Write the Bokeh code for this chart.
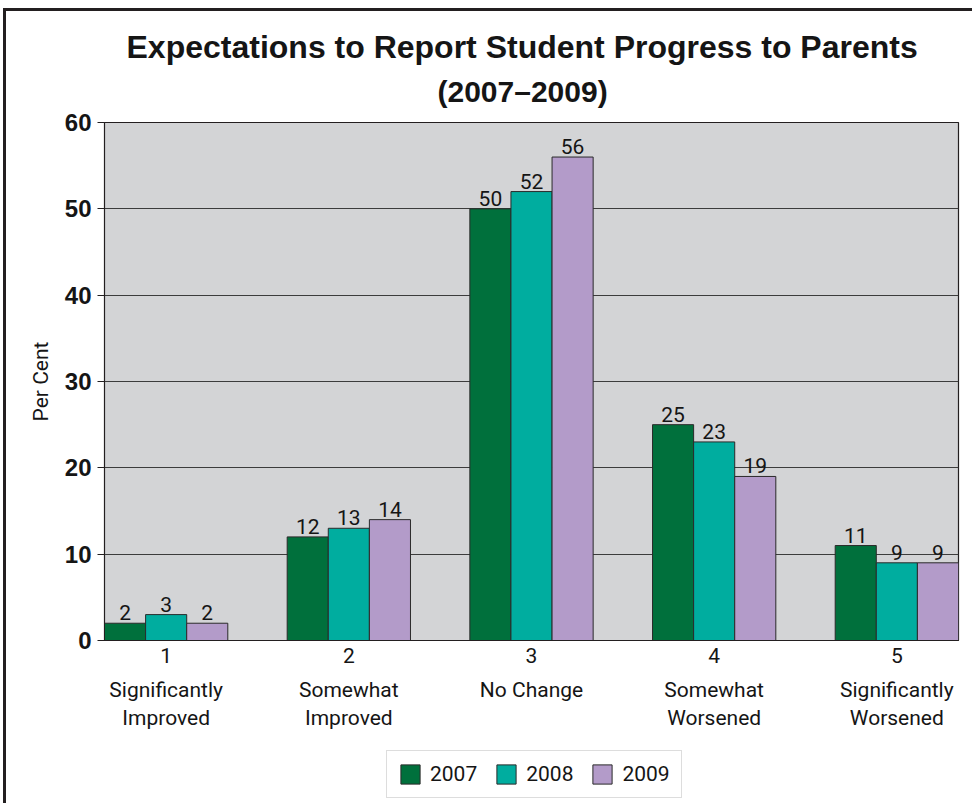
from bokeh.plotting import figure
from bokeh.models import (ColumnDataSource, Legend, LegendItem, Title, FixedTicker, Range1d,
                          LinearAxis)
from bokeh.layouts import column
from bokeh.core.properties import value
from bokeh.embed import file_html
from bokeh.resources import INLINE

# ---- data ----
categories = [1, 2, 3, 4, 5]
category_names = ["Significantly\nImproved", "Somewhat\nImproved", "No Change",
                  "Somewhat\nWorsened", "Significantly\nWorsened"]
years = ["2007", "2008", "2009"]
v2007 = [2, 12, 50, 25, 11]
v2008 = [3, 13, 52, 23, 9]
v2009 = [2, 14, 56, 19, 9]
y_ticks = [0, 10, 20, 30, 40, 50, 60]

colors = ["#00703c", "#00ad9f", "#b39bc9"]
series = [v2007, v2008, v2009]
offsets = [-0.225, 0.0, 0.225]
bar_w = 0.225

NARROW = "Roboto"
INK = "#151515"

p = figure(width=966, height=734, output_backend="svg", toolbar_location=None,
           x_range=Range1d(1 - 0.3375, 5 + 0.3375), y_range=Range1d(0, 60),
           min_border_left=98, min_border_right=14, min_border_top=111, min_border_bottom=105)

p.background_fill_color = "#d3d4d6"
p.border_fill_color = "white"
p.outline_line_color = "#231f20"
p.outline_line_width = 1.2

renderers = []
for vals, col, off, yr in zip(series, colors, offsets, years):
    src = ColumnDataSource(dict(x=[c + off for c in categories], top=vals,
                                lab=[str(v) for v in vals]))
    r = p.vbar(x="x", top="top", bottom=0, width=bar_w, source=src,
               fill_color=col, line_color="#2a2a2a", line_width=1)
    renderers.append((yr, col))
    p.text(x="x", y="top", text="lab", source=src, text_align="center",
           text_baseline="bottom", y_offset=-3, text_color=INK,
           text_font=value(NARROW), text_font_size="21px")

# grid
p.xgrid.grid_line_color = None
p.ygrid.ticker = FixedTicker(ticks=[10, 20, 30, 40, 50])
p.ygrid.grid_line_color = "#3c3c3c"
p.ygrid.grid_line_width = 1

# y axis
yax = p.yaxis[0]
yax.ticker = FixedTicker(ticks=y_ticks)
yax.minor_tick_line_color = None
yax.major_tick_out = 7
yax.major_tick_in = 0
yax.major_tick_line_color = "#231f20"
yax.axis_line_color = "#231f20"
yax.major_label_text_font = "Liberation Sans"
yax.major_label_text_font_style = "bold"
yax.major_label_text_font_size = "24px"
yax.major_label_text_color = INK
yax.major_label_standoff = 6
yax.axis_label = "Per Cent"
yax.axis_label_text_font = NARROW
yax.axis_label_text_font_style = "normal"
yax.axis_label_text_font_size = "21px"
yax.axis_label_text_color = INK
yax.axis_label_standoff = 9

# x axis: category numbers
xax = p.xaxis[0]
xax.ticker = FixedTicker(ticks=categories)
xax.minor_tick_line_color = None
xax.major_tick_line_color = None
xax.axis_line_color = "#231f20"
xax.major_label_text_font = NARROW
xax.major_label_text_font_size = "21px"
xax.major_label_text_color = INK
xax.major_label_standoff = 1

# second x axis: category names
xax2 = LinearAxis(ticker=FixedTicker(ticks=categories),
                  major_label_overrides={c: n for c, n in zip(categories, category_names)})
xax2.minor_tick_line_color = None
xax2.major_tick_line_color = None
xax2.axis_line_color = None
xax2.major_label_text_font = NARROW
xax2.major_label_text_font_size = "21px"
xax2.major_label_text_color = INK
xax2.major_label_text_line_height = 1.2
xax2.major_label_standoff = 6
p.add_layout(xax2, "below")

# titles
p.add_layout(Title(text="(2007–2009)", align="left", text_font="Liberation Sans",
                   text_font_style="bold", text_font_size="30px", text_color=INK,
                   standoff=30, offset=333), "above")
p.add_layout(Title(text="Expectations to Report Student Progress to Parents", align="left",
                   text_font="Liberation Sans", text_font_style="bold",
                   text_font_size="32px", text_color=INK, standoff=-14, offset=22), "above")

# legend strip
lf = figure(width=966, height=58, output_backend="svg", toolbar_location=None,
            x_range=Range1d(0, 1), y_range=Range1d(0, 1),
            x_axis_location=None, y_axis_location=None, min_border=0)
lf.outline_line_color = None
lf.xgrid.grid_line_color = None
lf.ygrid.grid_line_color = None
lf.background_fill_color = "white"
items = []
for yr, col in renderers:
    rr = lf.vbar(x=[5], top=[0], width=0.1, fill_color=col, line_color="#2a2a2a", line_width=1)
    items.append(LegendItem(label=yr, renderers=[rr]))
legend = Legend(items=items, orientation="horizontal", location=(282, 5),
                border_line_color="#bbbbbb", border_line_width=1.5,
                label_text_font=NARROW, label_text_font_size="21px",
                label_text_color=INK,
                glyph_width=24, glyph_height=24, label_standoff=8, spacing=17,
                padding=11, margin=0)
lf.add_layout(legend, "center")

layout = column(p, lf, spacing=0,
                styles={"margin-top": "8px", "margin-left": "3px",
                        "border-top": "3px solid #231f20", "border-left": "3px solid #231f20"})

open("out.html", "w").write(file_html(layout, INLINE))
